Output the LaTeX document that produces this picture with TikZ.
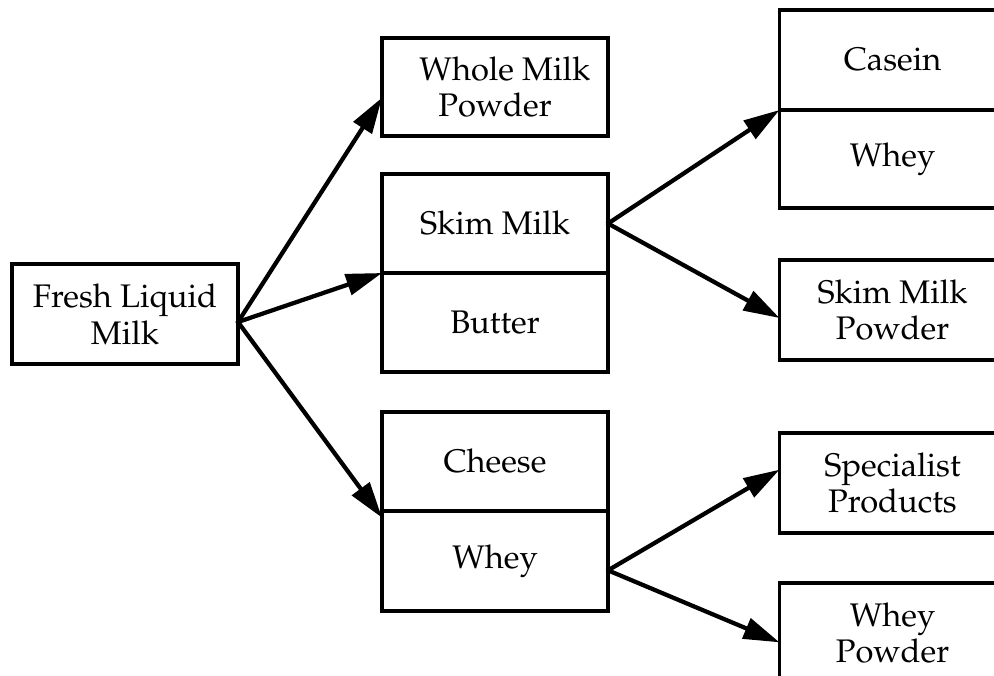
\documentclass[tikz,border=0pt]{standalone}
\usepackage[T1]{fontenc}
\usepackage{mathpazo}
\usetikzlibrary{arrows.meta}
\tikzset{
  box/.style={draw, line width=2.4pt, rectangle, inner sep=0pt, outer sep=0pt,
    align=center, font=\fontsize{24.5}{27.5}\selectfont,
    minimum width=169.5pt, minimum height=#1},
  box/.default=75pt,
  arr/.style={line width=3.2pt, -{Triangle[length=27pt,width=16pt]}, shorten <=-1pt}
}
\begin{document}
\begin{tikzpicture}[x=0.75pt,y=-0.75pt]
\useasboundingbox (0,0) rectangle (994,675);
\clip (0,0) rectangle (994,675);
% left
\node[box] (fresh) at (125,314) {Fresh Liquid\\Milk};
% middle column
\node[box=73.5pt] (whole) at (495,87) {\hspace*{0.6em}Whole Milk\\Powder};
\node[box=74.25pt] (skim) at (495,223.5) {Skim Milk};
\node[box=74.25pt] (butter) at (495,322.5) {Butter};
\node[box=74.25pt] (cheese) at (495,461.5) {Cheese};
\node[box=75pt] (whey) at (495,561) {Whey};
% right column
\node[box] (casein) at (892.5,60) {Casein};
\node[box=73.5pt] (whey2) at (892.5,159) {Whey};
\node[box] (smp) at (892.5,310) {Skim Milk\\Powder};
\node[box] (spec) at (892.5,483) {Specialist\\Products};
\node[box] (wp) at (892.5,633) {Whey\\Powder};
% connectors
\coordinate (fo) at ([yshift=-6pt]fresh.east);
\draw[arr] (fo) -- ([yshift=-8pt]whole.west);
\draw[arr] (fo) -- (skim.south west);
\draw[arr] (fo) -- ([yshift=-5pt]whey.north west);
\draw[arr] (skim.east) -- (casein.south west);
\draw[arr] (skim.east) -- ([yshift=-6pt]smp.west);
\coordinate (wo) at ([yshift=-7pt]whey.east);
\draw[arr] (wo) -- ([yshift=10pt]spec.west);
\draw[arr] (wo) -- ([yshift=-7pt]wp.west);
\end{tikzpicture}
\end{document}
